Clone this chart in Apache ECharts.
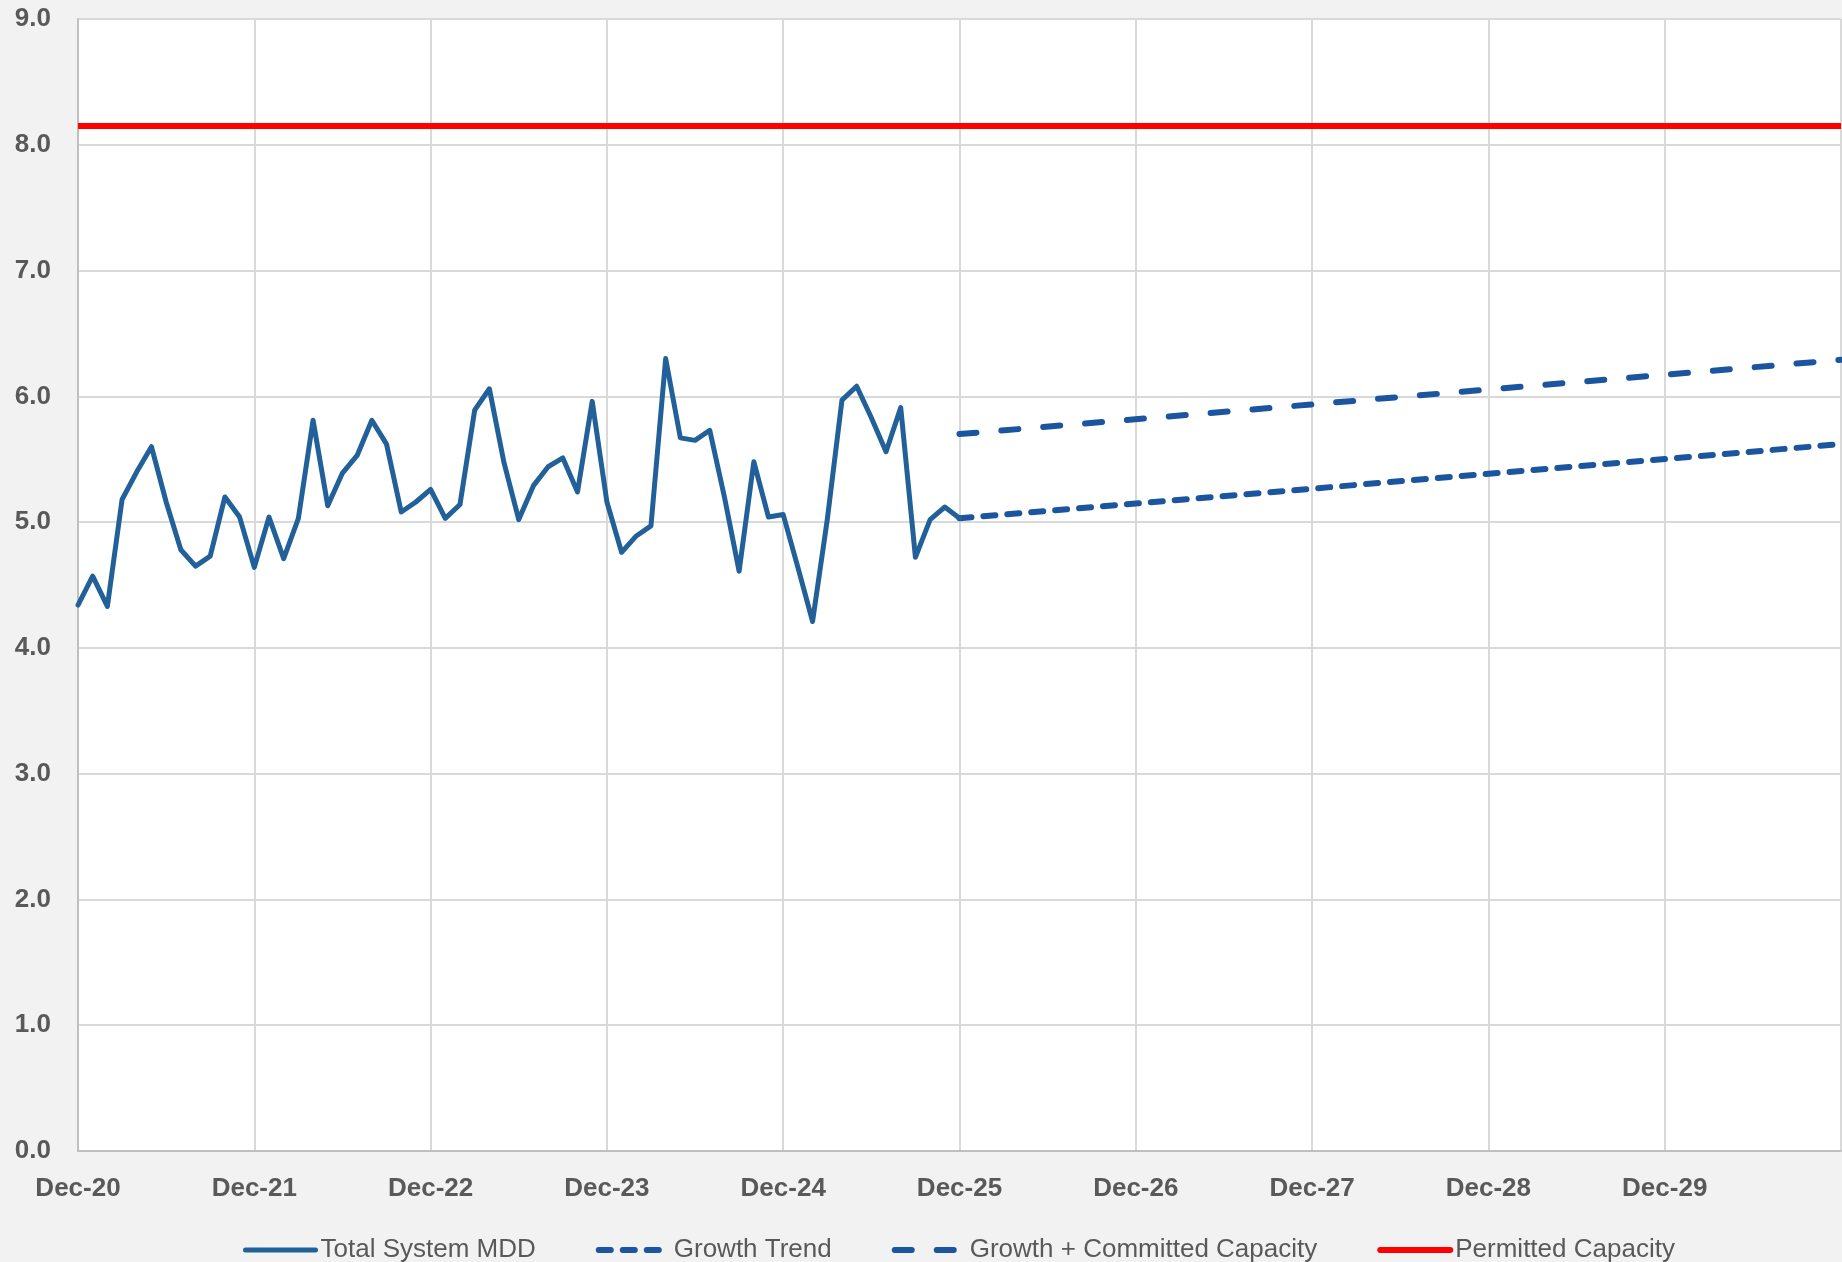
<!DOCTYPE html>
<html>
<head>
<meta charset="utf-8">
<title>System MDD</title>
<script src="https://cdn.jsdelivr.net/npm/echarts@6/dist/echarts.min.js"></script>
<style>
	html, body {
		margin: 0;
		padding: 0;
		background: #F2F2F2;
	}
	#chart {
		width: 1842px;
		height: 1262px;
	}
</style>
</head>
<body>
<div id="chart"></div>
<script>
	// monthly categories, Dec-20 .. Dec-30
	const monthNames = ['Jan', 'Feb', 'Mar', 'Apr', 'May', 'Jun', 'Jul', 'Aug', 'Sep', 'Oct', 'Nov', 'Dec'];
	const startYear = 2020;
	const monthCount = 121;
	const categories = [];
	for (let i = 0; i < monthCount; i++) {
		const m = (11 + i) % 12;
		const y = startYear + Math.floor((11 + i) / 12);
		categories.push(monthNames[m] + '-' + String(y).slice(2));
	}

	// Dec-20 .. Dec-25, one value per month
	const totalSystemMdd = [
		4.34, 4.57, 4.33, 5.18, 5.40, 5.60, 5.16, 4.78, 4.65, 4.73, 5.20, 5.04,
		4.64, 5.04, 4.71, 5.03, 5.81, 5.13, 5.39, 5.53, 5.81, 5.62, 5.08, 5.16,
		5.26, 5.03, 5.14, 5.89, 6.06, 5.47, 5.02, 5.29, 5.44, 5.51, 5.24, 5.96,
		5.16, 4.76, 4.89, 4.97, 6.30, 5.67, 5.65, 5.73, 5.20, 4.61, 5.48, 5.04,
		5.06, 4.64, 4.21, 5.02, 5.97, 6.08, 5.83, 5.56, 5.91, 4.72, 5.02, 5.12,
		5.03
	];

	// projections: start and end of each straight line
	const growthTrend = [['Dec-25', 5.03], ['Dec-30', 5.62]];
	const growthCommitted = [['Dec-25', 5.70], ['Dec-30', 6.29]];
	const permittedCapacity = [['Dec-20', 8.15], ['Dec-30', 8.15]];

	const seriesNames = ['Total System MDD', 'Growth Trend', 'Growth + Committed Capacity', 'Permitted Capacity'];

	const solidBlue = '#22609A';
	const dashBlue = '#1B559F';
	const labelColor = '#595959';

	const chart = echarts.init(document.getElementById('chart'));
	chart.setOption({
		animation: false,
		backgroundColor: '#F2F2F2',
		grid: {
			left: 78,
			right: 1,
			top: 19,
			bottom: 111,
			show: true,
			backgroundColor: '#FFFFFF',
			borderWidth: 0
		},
		legend: {
			left: 243,
			top: 1237,
			padding: 0,
			itemWidth: 70,
			itemHeight: 14,
			itemGap: 60,
			// no marker dot, line drawn like the series
			itemStyle: { opacity: 0 },
			lineStyle: { width: 'inherit', cap: 'round' },
			textStyle: {
				color: labelColor,
				fontSize: 26,
				fontFamily: '"Liberation Sans Narrow", "Liberation Sans", sans-serif'
			},
			data: seriesNames
		},
		xAxis: {
			type: 'category',
			boundaryGap: false,
			data: categories,
			axisLine: {
				show: true,
				lineStyle: { color: '#BFBFBF', width: 2 }
			},
			axisTick: { show: false },
			axisLabel: {
				// one label a year, last one is off the picture
				interval: (index) => index % 12 === 0 && index < monthCount - 1,
				margin: 25,
				color: labelColor,
				fontSize: 26,
				fontWeight: 'bold',
				fontFamily: '"Liberation Sans", Arial, sans-serif'
			},
			splitLine: {
				show: true,
				interval: (index) => index % 12 === 0 && index > 0,
				lineStyle: { color: '#D9D9D9', width: 2 }
			}
		},
		yAxis: {
			type: 'value',
			min: 0,
			max: 9,
			interval: 1,
			axisLine: {
				show: true,
				lineStyle: { color: '#BFBFBF', width: 2 }
			},
			axisTick: { show: false },
			axisLabel: {
				margin: 27,
				color: labelColor,
				fontSize: 26,
				fontWeight: 'bold',
				fontFamily: '"Liberation Sans", Arial, sans-serif',
				formatter: (v) => v.toFixed(1)
			},
			splitLine: {
				lineStyle: { color: '#D9D9D9', width: 2 }
			}
		},
		series: [
			{
				name: seriesNames[0],
				type: 'line',
				data: totalSystemMdd,
				symbol: 'none',
				color: solidBlue,
				lineStyle: { color: solidBlue, width: 5, join: 'round', cap: 'round' },
				z: 4
			},
			{
				name: seriesNames[1],
				type: 'line',
				data: growthTrend,
				symbol: 'none',
				color: dashBlue,
				lineStyle: { color: dashBlue, width: 6, type: [12, 12], cap: 'round' },
				z: 3
			},
			{
				name: seriesNames[2],
				type: 'line',
				data: growthCommitted,
				symbol: 'none',
				color: dashBlue,
				lineStyle: { color: dashBlue, width: 6, type: [17, 25], cap: 'round' },
				z: 3
			},
			{
				name: seriesNames[3],
				type: 'line',
				data: permittedCapacity,
				symbol: 'none',
				color: '#FF0000',
				lineStyle: { color: '#FF0000', width: 6 },
				z: 2
			}
		]
	});
</script>
</body>
</html>
